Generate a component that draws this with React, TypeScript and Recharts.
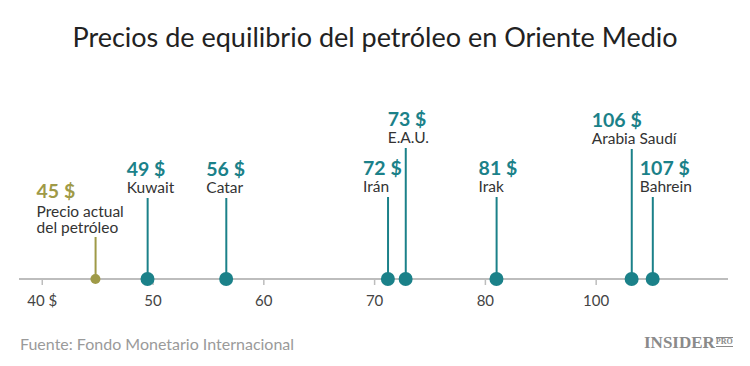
import React from "react";
import { ComposedChart, Bar, XAxis, YAxis, Cell, ReferenceLine, ReferenceDot } from "recharts";

const categories = ["Precio actual|del petróleo", "Kuwait", "Catar", "Irán", "E.A.U.", "Irak", "Arabia Saudí", "Bahrein"];
const prices = [45, 49, 56, 72, 73, 81, 106, 107];
const positions = [44.8, 49.5, 56.6, 71.2, 72.8, 81.0, 93.2, 95.1];
const stemHeights = [21, 40.5, 40.5, 41, 65.5, 41, 65, 41];
const tickValues = [40, 50, 60, 70, 80, 90];
const tickLabels = ["40 $", "50", "60", "70", "80", "100"];

const TEAL = "#1b8189";
const OLIVE = "#9f9a47";
const FONT = "Lato, 'Open Sans', sans-serif";

// label layout (horizontal offset of text block start from the stem)
const labelDx = [-59, -21, -20, -25, -18, -18, -40, -13];

const data = categories.map((c, i) => ({
  name: c,
  price: prices[i],
  pos: positions[i],
  h: stemHeights[i],
  current: i === 0,
  idx: i,
}));

const StemShape = (props: any) => {
  const { x, y, width, height, payload } = props;
  const cx = x + width / 2;
  const base = y + height;
  const color = payload.current ? OLIVE : TEAL;
  const lines = String(payload.name).split("|");
  const tx = cx + labelDx[payload.idx];
  const nameStart = y - 5 - (lines.length - 1) * 15;
  const priceY = payload.current ? nameStart - 19 : y - 22;
  return (
    <g>
      <line x1={cx} x2={cx} y1={y} y2={base} stroke={color} strokeWidth={2} />
      <text x={tx} y={priceY} fill={color} fontFamily={FONT} fontWeight={700} fontSize={19.5}>
        {payload.price + " $"}
      </text>
      {lines.map((l, k) => (
        <text key={k} x={tx} y={nameStart + k * 15.5} fill="#333" fontFamily={FONT} fontSize={15.5}>
          {l}
        </text>
      ))}
    </g>
  );
};

export default function App() {
  return (
    <div style={{ position: "absolute", left: 0, top: 0, width: 750, height: 366, background: "#fff", overflow: "hidden" }}>
      <div
        style={{
          position: "absolute",
          top: 19,
          left: 0,
          width: 750,
          textAlign: "center",
          fontFamily: FONT,
          fontSize: 27,
          color: "#222",
          lineHeight: "36px",
        }}
      >
        Precios de equilibrio del petróleo en Oriente Medio
      </div>
      <div style={{ position: "absolute", left: 0, top: 0 }}>
        <ComposedChart width={750} height={366} data={data} margin={{ top: 79, right: 22, left: 19, bottom: 57 }}>
          <XAxis
            dataKey="pos"
            type="number"
            domain={[37.9, 101.9]}
            allowDataOverflow
            ticks={tickValues}
            tickFormatter={(v: number) => tickLabels[tickValues.indexOf(v)]}
            axisLine={false}
            tickLine={{ stroke: "#bdbdbd", strokeWidth: 1.5 }}
            tickSize={6}
            tickMargin={10}
            height={30}
            tick={{ fill: "#444", fontSize: 15, fontFamily: FONT }}
          />
          <YAxis hide domain={[0, 100]} />
          <Bar dataKey="h" barSize={2} isAnimationActive={false} shape={StemShape}>
            {data.map((d, i) => (
              <Cell key={i} fill={d.current ? OLIVE : TEAL} />
            ))}
          </Bar>
          <ReferenceLine y={0} stroke="#bdbdbd" strokeWidth={2} />
          {data.map((d, i) => (
            <ReferenceDot
              key={"dot" + i}
              x={d.pos}
              y={0}
              r={d.current ? 5 : 7}
              fill={d.current ? OLIVE : TEAL}
              stroke="none"
            />
          ))}
        </ComposedChart>
      </div>
      <div style={{ position: "absolute", left: 20, top: 334, fontFamily: FONT, fontSize: 16, color: "#9a9a9a" }}>
        Fuente: Fondo Monetario Internacional
      </div>
      <div
        style={{
          position: "absolute",
          left: 644,
          top: 333,
          fontFamily: "'Liberation Serif', serif",
          fontWeight: 700,
          fontSize: 17,
          color: "#8a8a8a",
          display: "flex",
          alignItems: "flex-start",
        }}
      >
        <span>INSIDER</span>
        <span style={{ fontSize: 8, marginLeft: 1, marginTop: 4, borderTop: "1px solid #8a8a8a", borderBottom: "1px solid #8a8a8a", lineHeight: "8px" }}>PRO</span>
      </div>
    </div>
  );
}
